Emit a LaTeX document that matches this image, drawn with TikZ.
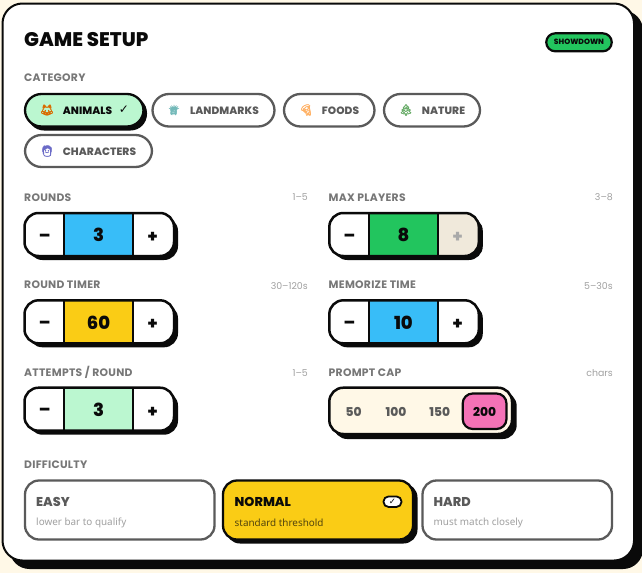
\documentclass[tikz,border=0pt]{standalone}
\usepackage{fontspec}
\setmainfont{Poppins}
\newfontfamily\heavy{Poppins ExtraBold}
\newfontfamily\semi[LetterSpace=2.5]{Poppins Bold}
\newfontfamily\heavysp[LetterSpace=0.5]{Poppins ExtraBold}
\newfontfamily\plain{Poppins}
\newfontfamily\subf{Noto Sans}
\newfontfamily\emo[FakeBold=2.5]{Noto Emoji}
\newfontfamily\dejavu{DejaVu Sans}
\definecolor{ink}{HTML}{0A0A0A}
\definecolor{cream}{HTML}{FFF8E7}
\definecolor{grayb}{HTML}{5A5A5A}
\definecolor{labelc}{HTML}{777777}
\definecolor{rangec}{HTML}{A0A0A0}
\definecolor{blueb}{HTML}{38BDF8}
\definecolor{yellowb}{HTML}{FACC15}
\definecolor{greenb}{HTML}{22C55E}
\definecolor{mintb}{HTML}{BBF7D0}
\definecolor{pinkb}{HTML}{F472B6}
\definecolor{disab}{HTML}{F0E9DB}
\tikzset{
  fieldlabel/.style={anchor=west,yshift=-0.6pt,inner sep=0,text=labelc,font=\semi\fontsize{10.8}{13}\selectfont},
  rangelabel/.style={anchor=east,yshift=-0.6pt,inner sep=0,text=rangec,font=\plain\fontsize{9.4}{12}\selectfont},
  pillbox/.style={draw=grayb,line width=2.3pt,fill=white,rounded corners=16.5pt},
  pilltext/.style={inner sep=0,yshift=-0.8pt,text=grayb,font=\heavysp\fontsize{10.6}{13}\selectfont},
  pillicon/.style={inner sep=0,font=\emo\fontsize{11}{14}\selectfont},
  stepframe/.style={line width=2.5pt,draw=ink,rounded corners=14pt},
  stepshadow/.style={fill=ink,rounded corners=14pt},
  stepsign/.style={inner sep=0,text=ink,font=\heavy\fontsize{17}{18}\selectfont},
  stepvalue/.style={inner sep=0,yshift=-0.6pt,text=ink,font=\heavy\fontsize{18}{19}\selectfont},
  capnum/.style={inner sep=0,yshift=-0.5pt,text=grayb,font=\heavy\fontsize{12.2}{14}\selectfont},
  diffbox/.style={line width=2.3pt,rounded corners=14pt},
  difftitle/.style={anchor=west,yshift=-0.6pt,inner sep=0,text=grayb,font=\heavy\fontsize{12.8}{15}\selectfont},
  diffsub/.style={anchor=west,yshift=-1.2pt,inner sep=0,text=rangec,font=\subf\fontsize{9.9}{12}\selectfont},
}
% #1 x, #2 y, #3 fill, #4 value, #5 plus colour, #6 plus-cell fill
\newcommand{\stepper}[6]{
  \fill[stepshadow] (#1+4,#2+4) rectangle ++(149.5,43);
  \begin{scope}
    \clip[rounded corners=14pt] (#1,#2) rectangle ++(149.5,43);
    \fill[white] (#1,#2) rectangle ++(149.5,43);
    \fill[#3] (#1+39.8,#2) rectangle ++(68.6,43);
    \fill[#6] (#1+108.4,#2) rectangle ++(41,43);
  \end{scope}
  \draw[ink,line width=2pt] (#1+39.8,#2) -- ++(0,43) (#1+108.4,#2) -- ++(0,43);
  \draw[stepframe] (#1,#2) rectangle ++(149.5,43);
  \node[stepsign] at (#1+20.2,#2+24.5) {–};
  \node[stepvalue] at (#1+74.1,#2+21.5) {#4};
  \node[stepsign,text=#5] at (#1+128.2,#2+24.3) {+};
}
\begin{document}
\begin{tikzpicture}[x=1pt,y=-1pt]
\useasboundingbox (0,0) rectangle (642,573);
\fill[cream] (0,0) rectangle (642,573);
% card
\fill[ink,rounded corners=20pt] (9.5,10.5) rectangle (643,569);
\draw[ink,line width=2pt,fill=white,rounded corners=20pt] (2.5,3.5) rectangle (634,560.5);
% header
\node[anchor=west,inner sep=0,yshift=-0.6pt,text=ink,font=\heavy\fontsize{19.7}{23}\selectfont] (title) at (24,38.5) {GAME SETUP};
\node[draw=ink,line width=2.2pt,fill=greenb,rounded corners=9pt,minimum width=65.5pt,minimum height=18pt,inner sep=0,text=ink,font=\heavy\fontsize{7.6}{9}\selectfont] (badge) at (579,42.3) {SHOWDOWN};
% category
\node[fieldlabel] (cat) at (24,77.5) {CATEGORY};
\fill[ink,rounded corners=16.5pt] (27.5,96.5) rectangle (147,130.5);
\draw[pillbox,draw=ink,fill=mintb] (25,94) rectangle (143.5,126.5);
\node[pillicon,text=orange!85!black] (i1) at (47,110) {🦊};
\node[pilltext,text=ink] (t1) at (87.5,110) {ANIMALS};
\node[inner sep=0,text=ink,font=\dejavu\fontsize{12}{13}\selectfont] (c1) at (124,110) {✓};
\draw[pillbox] (152.5,94) rectangle (274.5,126.5);
\node[pillicon,text=teal!55] (i2) at (174,110) {🗽};
\node[pilltext] (t2) at (224.5,110) {LANDMARKS};
\draw[pillbox] (284,94) rectangle (374.5,126.5);
\node[pillicon,text=orange!60] (i3) at (306,110) {🍕};
\node[pilltext] (t3) at (340.5,110) {FOODS};
\draw[pillbox] (384,94) rectangle (480,126.5);
\node[pillicon,text=green!45!black!60] (i4) at (406,110) {🌲};
\node[pilltext] (t4) at (443.5,110) {NATURE};
\draw[pillbox] (25,135) rectangle (152,167);
\node[pillicon,text=blue!45!gray!80] (i5) at (47,151) {🧑};
\node[pilltext] (t5) at (99.5,151) {CHARACTERS};
% field labels
\node[fieldlabel] (l1) at (24,197) {ROUNDS};
\node[rangelabel] (r1) at (308,197) {1–5};
\node[fieldlabel] (l2) at (328.5,197) {MAX PLAYERS};
\node[rangelabel] (r2) at (613,197) {3–8};
\node[fieldlabel] (l3) at (24,284.5) {ROUND TIMER};
\node[rangelabel] (r3) at (308,285) {30–120s};
\node[fieldlabel] (l4) at (328.5,284.5) {MEMORIZE TIME};
\node[rangelabel] (r4) at (613,285) {5–30s};
\node[fieldlabel] (l5) at (24,372) {ATTEMPTS / ROUND};
\node[rangelabel] (r5) at (308,372.5) {1–5};
\node[fieldlabel] (l6) at (328.5,372) {PROMPT CAP};
\node[rangelabel] (r6) at (613,372.5) {chars};
% steppers
\stepper{24.5}{213}{blueb}{3}{ink}{white}
\stepper{329.3}{213}{greenb}{8}{ink!35}{disab}
\stepper{24.5}{300.3}{yellowb}{60}{ink}{white}
\stepper{329.3}{300.3}{blueb}{10}{ink}{white}
\stepper{24.5}{387.7}{mintb}{3}{ink}{white}
% prompt cap
\fill[ink,rounded corners=14pt] (333.3,392) rectangle (516.7,439);
\draw[stepframe,fill=cream] (329.3,387.7) rectangle (512,434);
\draw[ink,line width=2.2pt,fill=pinkb,rounded corners=10pt] (462.7,393.5) rectangle (506.5,429);
\node[capnum] (p1) at (353.7,411.7) {50};
\node[capnum] (p2) at (396,411.7) {100};
\node[capnum] (p3) at (439.7,411.7) {150};
\node[capnum,text=ink] (p4) at (484.7,411.7) {200};
% difficulty
\node[fieldlabel] (dif) at (24,464) {DIFFICULTY};
\draw[diffbox,draw=grayb,fill=white] (25,480.5) rectangle (214.5,539.5);
\node[difftitle] (d1) at (36,501.5) {EASY};
\node[diffsub] (s1) at (36,521.3) {lower bar to qualify};
\fill[ink,rounded corners=14pt] (226,483.5) rectangle (417.5,543.5);
\draw[diffbox,draw=ink,fill=yellowb] (223,480.5) rectangle (413,539.5);
\node[difftitle,text=ink] (d2) at (234.5,501.5) {NORMAL};
\node[diffsub,text=ink!70!yellowb] (s2) at (234.5,521.3) {standard threshold};
\node[draw=ink,line width=1.8pt,fill=white,rounded corners=5pt,minimum width=18pt,minimum height=10.5pt,inner sep=0,text=ink,font=\dejavu\fontsize{8.5}{9}\selectfont] (chk) at (392.5,501.7) {✓};
\draw[diffbox,draw=grayb,fill=white] (422.5,480.5) rectangle (612,539.5);
\node[difftitle] (d3) at (433.5,501.5) {HARD};
\node[diffsub] (s3) at (433.5,521.3) {must match closely};
\end{tikzpicture}
\end{document}
